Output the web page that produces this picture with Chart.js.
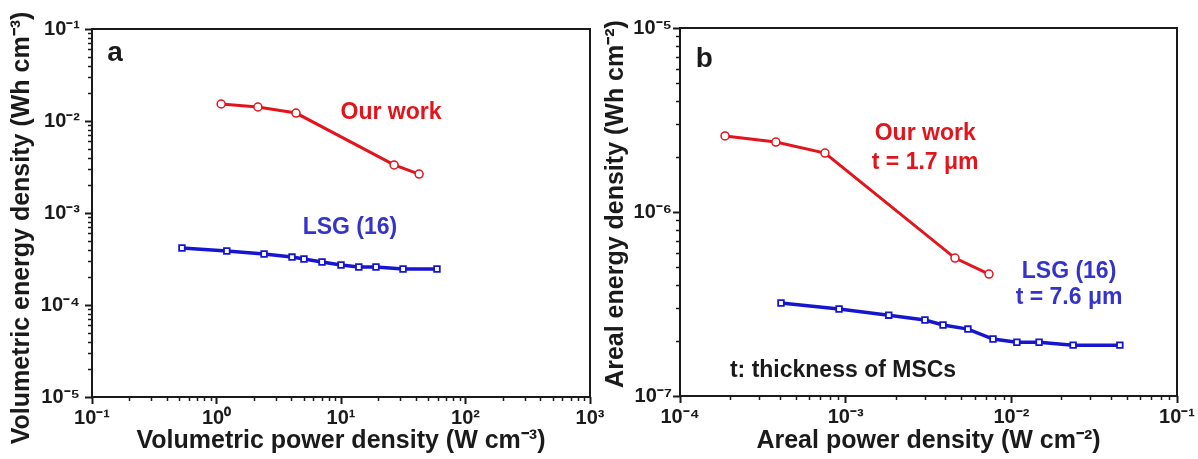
<!DOCTYPE html>
<html>
<head>
<meta charset="utf-8">
<script src="https://cdn.jsdelivr.net/npm/chart.js@4.4.1/dist/chart.umd.min.js"></script>
<style>
  body { margin: 0; background: #fff; width: 1198px; height: 459px; overflow: hidden; position: relative; }
  canvas { position: absolute; top: 0; }
  #chartA { left: 0; }
  #chartB { left: 600px; }
</style>
</head>
<body>
<canvas id="chartA" width="612" height="459"></canvas>
<canvas id="chartB" width="598" height="459"></canvas>
<script>
// panel a - volumetric
var volPowerOurs = [1.09, 2.15, 4.35, 26.7, 42.4];
var volEnergyOurs = [0.0153, 0.0142, 0.0122, 0.00333, 0.00265];
var volPowerLsg = [0.528, 1.21, 2.41, 4.04, 5.04, 7.04, 10.0, 13.9, 19.1, 31.5, 59.0];
var volEnergyLsg = [4.17e-4, 3.86e-4, 3.58e-4, 3.32e-4, 3.16e-4, 2.93e-4, 2.72e-4, 2.59e-4, 2.59e-4, 2.46e-4, 2.46e-4];
var volXTicks = [0.1, 1, 10, 100, 1000];
var volYTicks = [1e-5, 1e-4, 1e-3, 1e-2, 1e-1];

// panel b - areal
var arealPowerOurs = [1.87e-4, 3.79e-4, 7.5e-4, 4.57e-3, 7.33e-3];
var arealEnergyOurs = [2.59e-6, 2.40e-6, 2.09e-6, 5.62e-7, 4.60e-7];
var arealPowerLsg = [4.07e-4, 9.12e-4, 1.82e-3, 3.01e-3, 3.87e-3, 5.47e-3, 7.75e-3, 1.08e-2, 1.47e-2, 2.36e-2, 4.52e-2];
var arealEnergyLsg = [3.20e-7, 2.97e-7, 2.75e-7, 2.59e-7, 2.43e-7, 2.31e-7, 2.04e-7, 1.96e-7, 1.96e-7, 1.89e-7, 1.89e-7];
var arealXTicks = [1e-4, 1e-3, 1e-2, 1e-1];
var arealYTicks = [1e-7, 1e-6, 1e-5];

var RED = '#e2141c';
var BLUE = '#1616d0';
var BLUE_TXT = '#3434cc';
var INK = '#1a1a1a';
var FAMILY = "'Liberation Sans', Arial, sans-serif";

var SUP = {'-': '\u207B', '0': '\u2070', '1': '\u00B9', '2': '\u00B2', '3': '\u00B3', '4': '\u2074',
  '5': '\u2075', '6': '\u2076', '7': '\u2077', '8': '\u2078', '9': '\u2079'};

function powLabel(v) {
  var e = Math.round(Math.log10(v));
  return '10' + String(e).split('').map(function(c) { return SUP[c]; }).join('');
}

function pts(xs, ys) {
  return xs.map(function(x, i) { return {x: x, y: ys[i]}; });
}

// minor tick values 2..9 x each decade between min and max
function minorValues(min, max) {
  var out = [];
  for (var d = Math.round(Math.log10(min)); d < Math.round(Math.log10(max)); d++) {
    for (var m = 2; m <= 9; m++) out.push(m * Math.pow(10, d));
  }
  return out;
}

var framePlugin = {
  id: 'frame',
  afterDraw: function(chart, args, opts) {
    var ctx = chart.ctx, a = chart.chartArea;
    var xs = chart.scales.x, ys = chart.scales.y;
    ctx.save();
    ctx.strokeStyle = INK;
    ctx.lineWidth = 2;
    ctx.strokeRect(a.left, a.top, a.right - a.left, a.bottom - a.top);
    ctx.lineWidth = 1.5;
    ctx.beginPath();
    minorValues(xs.min, xs.max).forEach(function(v) {
      var px = Math.round(xs.getPixelForValue(v)) + 0.5;
      ctx.moveTo(px, a.bottom); ctx.lineTo(px, a.bottom + 4);
    });
    minorValues(ys.min, ys.max).forEach(function(v) {
      var py = Math.round(ys.getPixelForValue(v)) + 0.5;
      ctx.moveTo(a.left - 4, py); ctx.lineTo(a.left, py);
    });
    ctx.stroke();
    //==============================================> y title (shifted off the axis centre like the original)
    var t = opts.yTitle;
    ctx.save();
    ctx.translate(t.x, (a.top + a.bottom) / 2 + t.shift);
    ctx.rotate(-Math.PI / 2);
    ctx.textAlign = 'center';
    ctx.textBaseline = 'middle';
    ctx.fillStyle = INK;
    ctx.font = 'bold 25px ' + FAMILY;
    ctx.fillText(t.text, 0, 0);
    ctx.restore();
    //==============================================> notes
    ctx.textAlign = 'center';
    ctx.textBaseline = 'middle';
    (opts.notes || []).forEach(function(n) {
      ctx.fillStyle = n.color;
      ctx.font = 'bold ' + n.size + 'px ' + FAMILY;
      ctx.fillText(n.text, xs.getPixelForValue(n.x), ys.getPixelForValue(n.y));
    });
    ctx.restore();
  }
};

function makeChart(id, cfg) {
  var ctx = document.getElementById(id).getContext('2d');
  return new Chart(ctx, {
    type: 'scatter',
    data: {
      datasets: [
        {
          label: 'Our work',
          data: pts(cfg.oursX, cfg.oursY),
          showLine: true,
          borderColor: RED,
          borderWidth: 3,
          pointStyle: 'circle',
          pointRadius: 4,
          pointBorderWidth: 1.5,
          pointBackgroundColor: '#fff',
          pointBorderColor: RED
        },
        {
          label: 'LSG (16)',
          data: pts(cfg.lsgX, cfg.lsgY),
          showLine: true,
          borderColor: BLUE,
          borderWidth: 3.5,
          pointStyle: 'rect',
          pointRadius: 4,
          pointBorderWidth: 1.8,
          pointBackgroundColor: '#fff',
          pointBorderColor: BLUE
        }
      ]
    },
    options: {
      responsive: false,
      devicePixelRatio: 1,
      animation: false,
      layout: { padding: cfg.padding },
      plugins: {
        legend: { display: false },
        tooltip: { enabled: false },
        frame: { notes: cfg.notes, yTitle: cfg.yTitle }
      },
      scales: {
        x: {
          type: 'logarithmic',
          min: cfg.xTicks[0],
          max: cfg.xTicks[cfg.xTicks.length - 1],
          border: { display: false },
          grid: { display: true, drawOnChartArea: false, drawTicks: true, tickLength: 7, tickWidth: 2, tickColor: INK },
          afterBuildTicks: function(scale) {
            scale.ticks = cfg.xTicks.map(function(v) { return {value: v, major: true}; });
          },
          afterFit: function(scale) {
            scale.height = cfg.xHeight;
            scale.paddingLeft = 0; scale.paddingRight = 0;
          },
          ticks: {
            autoSkip: false, maxRotation: 0, padding: 2, color: INK,
            font: { family: FAMILY, size: 20, weight: 'bold' },
            callback: function(v) { return powLabel(v); }
          },
          title: {
            display: true, text: cfg.xTitle, color: INK,
            font: { family: FAMILY, size: 25, weight: 'bold' },
            padding: { top: 0, bottom: 3 }
          }
        },
        y: {
          type: 'logarithmic',
          min: cfg.yTicks[0],
          max: cfg.yTicks[cfg.yTicks.length - 1],
          border: { display: false },
          grid: { display: true, drawOnChartArea: false, drawTicks: true, tickLength: 7, tickWidth: 2, tickColor: INK },
          afterBuildTicks: function(scale) {
            scale.ticks = cfg.yTicks.map(function(v) { return {value: v, major: true}; });
          },
          afterFit: function(scale) {
            scale.width = cfg.yWidth;
            scale.paddingTop = 0; scale.paddingBottom = 0;
          },
          ticks: {
            autoSkip: false, padding: cfg.yTickPad, color: INK,
            font: { family: FAMILY, size: 20, weight: 'bold' },
            callback: function(v) { return powLabel(v); }
          },
          title: { display: false }
        }
      }
    },
    plugins: [framePlugin]
  });
}

makeChart('chartA', {
  oursX: volPowerOurs, oursY: volEnergyOurs,
  lsgX: volPowerLsg, lsgY: volEnergyLsg,
  xTicks: volXTicks, yTicks: volYTicks,
  xTitle: 'Volumetric power density (W cm\u207B\u00B3)',
  yTitle: { text: 'Volumetric energy density (Wh cm\u207B\u00B3)', x: 22, shift: 15 },
  padding: { top: 29, right: 22, bottom: 0, left: 0 },
  xHeight: 62, yWidth: 92, yTickPad: 5,
  notes: [
    { text: 'a', x: 0.153, y: 0.054, color: INK, size: 28 },
    { text: 'Our work', x: 25.2, y: 0.0122, color: RED, size: 23 },
    { text: 'LSG (16)', x: 11.8, y: 6.87e-4, color: BLUE_TXT, size: 23 }
  ]
});

makeChart('chartB', {
  oursX: arealPowerOurs, oursY: arealEnergyOurs,
  lsgX: arealPowerLsg, lsgY: arealEnergyLsg,
  xTicks: arealXTicks, yTicks: arealYTicks,
  xTitle: 'Areal power density (W cm\u207B\u00B2)',
  yTitle: { text: 'Areal energy density (Wh cm\u207B\u00B2)', x: 16, shift: -8 },
  padding: { top: 28, right: 21, bottom: 0, left: 0 },
  xHeight: 63, yWidth: 80, yTickPad: 1,
  notes: [
    { text: 'b', x: 1.40e-4, y: 6.79e-6, color: INK, size: 28 },
    { text: 'Our work', x: 3.02e-3, y: 2.68e-6, color: RED, size: 23 },
    { text: 't = 1.7 \u03BCm', x: 3.02e-3, y: 1.85e-6, color: RED, size: 23 },
    { text: 'LSG (16)', x: 2.23e-2, y: 4.72e-7, color: BLUE_TXT, size: 23 },
    { text: 't = 7.6 \u03BCm', x: 2.23e-2, y: 3.41e-7, color: BLUE_TXT, size: 23 },
    { text: 't: thickness of MSCs', x: 9.64e-4, y: 1.38e-7, color: INK, size: 23 }
  ]
});
</script>
</body>
</html>
